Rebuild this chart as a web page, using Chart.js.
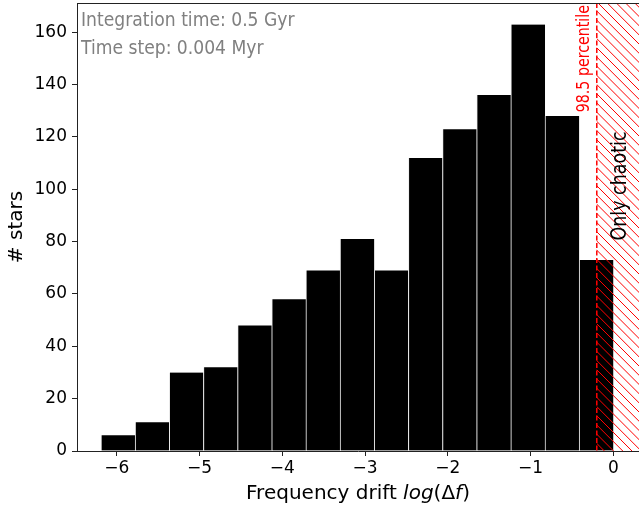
<!DOCTYPE html>
<html>
<head>
<meta charset="utf-8">
<script src="https://cdn.jsdelivr.net/npm/chart.js@4.4.1/dist/chart.umd.min.js"></script>
<style>
  html, body { margin: 0; padding: 0; background: #fff; overflow: hidden; }
  canvas { display: block; }
</style>
</head>
<body>
<canvas id="c" width="639" height="508"></canvas>
<script>
// ---- data ----
const binEdges = [-6.19, -5.7773, -5.3647, -4.952, -4.5393, -4.1267, -3.714, -3.3013,
                  -2.8887, -2.476, -2.0633, -1.6507, -1.238, -0.8253, -0.4127, 0.0];
const counts = [6, 11, 30, 32, 48, 58, 69, 81, 69, 112, 123, 136, 163, 128, 73];
const xTicks = [-6, -5, -4, -3, -2, -1, 0];
const yTicks = [0, 20, 40, 60, 80, 100, 120, 140, 160];
const percentile = -0.2;
const infoLines = ["Integration time: 0.5 Gyr", "Time step: 0.004 Myr"];
const percentileLabel = "98.5 percentile";
const regionLabel = "Only chaotic";
const yTitle = "# stars";

const centers = counts.map((_, i) => (binEdges[i] + binEdges[i + 1]) / 2);
const points = counts.map((v, i) => ({ x: centers[i], y: v }));

const axisColor = '#222';

function setFont(ctx, size) {
  ctx.font = size + 'px "DejaVu Sans Condensed", "DejaVu Sans", sans-serif';
}
function squeezed(ctx, text, x, y, f) {
  const w = ctx.measureText(text).width;
  ctx.fillText(text, x, y, w * f);
}

const decor = {
  id: 'decor',
  afterDatasetsDraw(chart) {
    const { ctx, chartArea: a, scales } = chart;
    const x0 = scales.x.getPixelForValue(percentile);
    // hatched region
    ctx.save();
    ctx.beginPath();
    ctx.rect(x0, a.top, a.right - x0, a.bottom - a.top);
    ctx.clip();
    ctx.strokeStyle = '#ff0000';
    ctx.lineWidth = 1;
    const h = a.bottom - a.top;
    const step = 9.2;
    for (let k = x0 - h - 20; k < a.right + 5; k += step) {
      ctx.beginPath();
      ctx.moveTo(k, a.top);
      ctx.lineTo(k + h, a.bottom);
      ctx.stroke();
    }
    ctx.restore();
    // dashed line
    ctx.save();
    ctx.strokeStyle = '#ff0000';
    ctx.lineWidth = 1.5;
    ctx.setLineDash([5, 2.5]);
    ctx.beginPath();
    ctx.moveTo(x0, a.top);
    ctx.lineTo(x0, a.bottom);
    ctx.stroke();
    ctx.restore();
    // top spine
    ctx.save();
    ctx.strokeStyle = axisColor;
    ctx.lineWidth = 1;
    ctx.beginPath();
    ctx.moveTo(a.left, a.top + 0.5);
    ctx.lineTo(a.right, a.top + 0.5);
    ctx.stroke();
    ctx.restore();
  },
  afterDraw(chart) {
    const { ctx, chartArea: a, scales } = chart;
    const x0 = scales.x.getPixelForValue(percentile);
    ctx.save();
    // info text
    ctx.fillStyle = '#808080';
    setFont(ctx, 20);
    ctx.textAlign = 'left';
    ctx.textBaseline = 'alphabetic';
    squeezed(ctx, infoLines[0], a.left + 4, 26, 0.955);
    squeezed(ctx, infoLines[1], a.left + 4, 54, 0.955);
    // percentile label
    ctx.save();
    ctx.translate(x0 - 8, a.top + 2);
    ctx.rotate(-Math.PI / 2);
    ctx.fillStyle = '#ff0000';
    setFont(ctx, 17);
    ctx.textAlign = 'right';
    ctx.textBaseline = 'alphabetic';
    squeezed(ctx, percentileLabel, 0, 0, 0.93);
    ctx.restore();
    // region label
    ctx.save();
    ctx.translate(621, 186);
    ctx.rotate(-Math.PI / 2);
    ctx.fillStyle = '#000';
    setFont(ctx, 21);
    ctx.textAlign = 'center';
    ctx.textBaseline = 'middle';
    squeezed(ctx, regionLabel, 0, 0, 0.925);
    ctx.restore();
    // y title
    ctx.save();
    ctx.translate(17, (a.top + a.bottom) / 2);
    ctx.rotate(-Math.PI / 2);
    ctx.fillStyle = '#000';
    ctx.font = '20px "DejaVu Sans"';
    ctx.textAlign = 'center';
    ctx.textBaseline = 'middle';
    ctx.fillText(yTitle, 0, 0);
    ctx.restore();
    // x title with italic parts
    const parts = [
      ['Frequency drift ', false], ['log', true], ['(Δ', false], ['f', true], [')', false]
    ];
    let total = 0;
    parts.forEach(p => {
      ctx.font = (p[1] ? 'italic ' : '') + '20px "DejaVu Sans"';
      p.w = ctx.measureText(p[0]).width;
      total += p.w;
    });
    let x = (a.left + a.right) / 2 - total / 2;
    ctx.fillStyle = '#000';
    ctx.textAlign = 'left';
    ctx.textBaseline = 'alphabetic';
    parts.forEach(p => {
      ctx.font = (p[1] ? 'italic ' : '') + '20px "DejaVu Sans"';
      ctx.fillText(p[0], x, 499);
      x += p.w;
    });
    ctx.restore();
  }
};

new Chart(document.getElementById('c'), {
  type: 'bar',
  data: {
    datasets: [{
      data: points,
      backgroundColor: '#000000',
      borderColor: '#eeeeee',
      borderWidth: { left: 1, right: 0, top: 0, bottom: 0 },
      borderSkipped: false,
      barPercentage: 1,
      categoryPercentage: 1
    }]
  },
  options: {
    responsive: false,
    devicePixelRatio: 1,
    animation: false,
    layout: { padding: { top: 3, right: 0, left: 0, bottom: 0 } },
    plugins: { legend: { display: false }, tooltip: { enabled: false } },
    scales: {
      x: {
        type: 'linear',
        min: -6.48,
        max: 0.31,
        offset: false,
        grid: { offset: false, drawOnChartArea: false, drawTicks: true, tickLength: 5, color: axisColor },
        border: { display: true, color: axisColor, width: 1 },
        afterBuildTicks: s => { s.ticks = xTicks.map(v => ({ value: v })); },
        afterFit: s => { s.height = 57; s.paddingLeft = 0; s.paddingRight = 0; },
        ticks: {
          color: '#000',
          padding: 2,
          font: { family: 'DejaVu Sans', size: 17 },
          maxRotation: 0,
          callback: v => (v < 0 ? '\u2212' + Math.abs(v) : String(v))
        }
      },
      y: {
        min: 0,
        max: 171.2,
        grid: { drawOnChartArea: false, drawTicks: true, tickLength: 5, color: axisColor },
        border: { display: true, color: axisColor, width: 1 },
        afterBuildTicks: s => { s.ticks = yTicks.map(v => ({ value: v })); },
        afterFit: s => { s.width = 77; s.paddingTop = 0; s.paddingBottom = 0; },
        ticks: {
          color: '#000',
          padding: 5,
          font: { family: 'DejaVu Sans', size: 17 }
        }
      }
    }
  },
  plugins: [decor]
});
</script>
</body>
</html>
